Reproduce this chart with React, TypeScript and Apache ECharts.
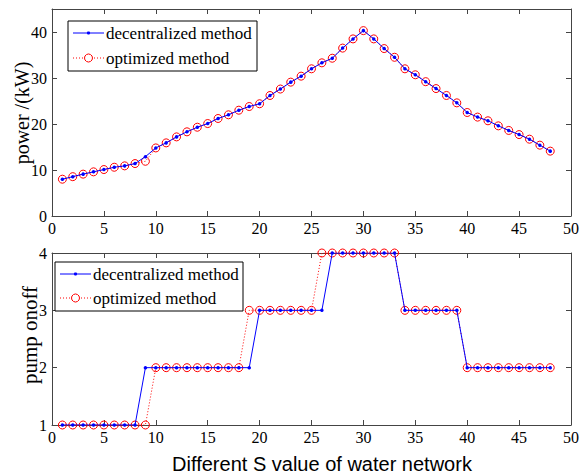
import React, { useEffect, useRef } from "react";
import * as echarts from "echarts";

const sValues = [1, 2, 3, 4, 5, 6, 7, 8, 9, 10, 11, 12, 13, 14, 15, 16, 17, 18, 19, 20, 21, 22, 23, 24, 25, 26, 27, 28, 29, 30, 31, 32, 33, 34, 35, 36, 37, 38, 39, 40, 41, 42, 43, 44, 45, 46, 47, 48];

const powerDecentralized = [8.0, 8.55, 9.1, 9.6, 10.1, 10.6, 10.9, 11.4, 12.9, 14.8, 15.9, 17.2, 18.3, 19.3, 20.1, 21.2, 22.0, 23.0, 23.8, 24.4, 26.2, 27.6, 29.1, 30.4, 32.0, 33.3, 34.3, 36.5, 38.5, 40.3, 38.5, 36.4, 34.5, 32.0, 30.7, 29.2, 27.7, 26.2, 24.6, 22.5, 21.5, 20.7, 19.6, 18.6, 17.7, 16.7, 15.4, 14.1];
const powerOptimized = [8.0, 8.55, 9.1, 9.6, 10.1, 10.6, 10.9, 11.4, 11.9, 14.8, 15.9, 17.2, 18.3, 19.3, 20.1, 21.2, 22.0, 23.0, 23.8, 24.4, 26.2, 27.6, 29.1, 30.4, 32.0, 33.3, 34.3, 36.5, 38.5, 40.3, 38.5, 36.4, 34.5, 32.0, 30.7, 29.2, 27.7, 26.2, 24.6, 22.5, 21.5, 20.7, 19.6, 18.6, 17.7, 16.7, 15.4, 14.1];

const pumpDecentralized = [1, 1, 1, 1, 1, 1, 1, 1, 2, 2, 2, 2, 2, 2, 2, 2, 2, 2, 2, 3, 3, 3, 3, 3, 3, 3, 4, 4, 4, 4, 4, 4, 4, 3, 3, 3, 3, 3, 3, 2, 2, 2, 2, 2, 2, 2, 2, 2];
const pumpOptimized = [1, 1, 1, 1, 1, 1, 1, 1, 1, 2, 2, 2, 2, 2, 2, 2, 2, 2, 3, 3, 3, 3, 3, 3, 3, 4, 4, 4, 4, 4, 4, 4, 4, 3, 3, 3, 3, 3, 3, 2, 2, 2, 2, 2, 2, 2, 2, 2];

const seriesNames = ["decentralized method", "optimized method"];
const xTitle = "Different S value of water network";
const topYTitle = "power /(kW)";
const bottomYTitle = "pump onoff";

const SERIF = "Liberation Serif";
const SANS = "Liberation Sans";
const BLUE = "#0000ff";
const RED = "#ff0000";
const FRAME = "#444444";

function pairs(ys: number[]) {
  return sValues.map((x, i) => [x, ys[i]]);
}

function legendGroup(left: number, top: number, width: number, height: number, rowGap: number) {
  const r1 = top + 12;
  const r2 = r1 + rowGap;
  const lx0 = left + 5;
  const lx1 = left + 36;
  const mid = (lx0 + lx1) / 2;
  const tx = left + 38;
  return [
    { type: "rect", shape: { x: left, y: top, width, height }, style: { fill: "#fff", stroke: "#000", lineWidth: 1 }, z: 100 },
    { type: "line", shape: { x1: lx0, y1: r1, x2: lx1, y2: r1 }, style: { stroke: BLUE, lineWidth: 1 }, z: 101 },
    { type: "circle", shape: { cx: mid, cy: r1, r: 1.6 }, style: { fill: BLUE }, z: 102 },
    { type: "text", x: tx, y: r1, style: { text: seriesNames[0], fontFamily: SERIF, fontSize: 17, fill: "#000", verticalAlign: "middle", align: "left" }, z: 101 },
    { type: "line", shape: { x1: lx0, y1: r2, x2: lx1, y2: r2 }, style: { stroke: RED, lineWidth: 1, lineDash: [1, 2] }, z: 101 },
    { type: "circle", shape: { cx: mid, cy: r2, r: 4 }, style: { fill: "#fff", stroke: RED, lineWidth: 1 }, z: 102 },
    { type: "text", x: tx, y: r2, style: { text: seriesNames[1], fontFamily: SERIF, fontSize: 17, fill: "#000", verticalAlign: "middle", align: "left" }, z: 101 },
  ];
}

export default function App() {
  const ref = useRef<HTMLDivElement>(null);

  useEffect(() => {
    if (!ref.current) return;
    const chart = echarts.init(ref.current, undefined, { renderer: "svg" });

    const baseX = (gridIndex: number, show: boolean, position: "bottom" | "top") => ({
      type: "value",
      gridIndex,
      position,
      min: 0,
      max: 50,
      interval: 5,
      axisLine: { show: true, onZero: false, lineStyle: { color: FRAME, width: 1 } },
      axisTick: { show: true, inside: true, length: 5, lineStyle: { color: FRAME } },
      axisLabel: { show, color: "#000", fontFamily: SERIF, fontSize: 16, margin: 4 },
      splitLine: { show: false },
    });

    const baseY = (gridIndex: number, show: boolean, position: "left" | "right", min: number, max: number, interval: number) => ({
      type: "value",
      gridIndex,
      position,
      min,
      max,
      interval,
      axisLine: { show: true, onZero: false, lineStyle: { color: FRAME, width: 1 } },
      axisTick: { show: true, inside: true, length: 5, lineStyle: { color: FRAME } },
      axisLabel: {
        show,
        color: "#000",
        fontFamily: SERIF,
        fontSize: 16,
        margin: 5,
        formatter: (v: number) => (v % interval === 0 ? String(v) : ""),
      },
      splitLine: { show: false },
    });

    const option: any = {
      animation: false,
      backgroundColor: "#fff",
      grid: [
        { left: 52, top: 9, width: 520, height: 207 },
        { left: 52, top: 253, width: 520, height: 172 },
      ],
      xAxis: [
        baseX(0, true, "bottom"),
        baseX(0, false, "top"),
        baseX(1, true, "bottom"),
        baseX(1, false, "top"),
      ],
      yAxis: [
        baseY(0, true, "left", 0, 45, 10),
        baseY(0, false, "right", 0, 45, 10),
        baseY(1, true, "left", 1, 4, 1),
        baseY(1, false, "right", 1, 4, 1),
      ],
      series: [
        {
          name: seriesNames[1],
          type: "line",
          xAxisIndex: 0,
          yAxisIndex: 0,
          data: pairs(powerOptimized),
          symbol: "circle",
          symbolSize: 8,
          itemStyle: { color: "transparent", borderColor: RED, borderWidth: 1 },
          lineStyle: { color: RED, width: 1, type: [1, 2] },
          z: 2,
        },
        {
          name: seriesNames[0],
          type: "line",
          xAxisIndex: 0,
          yAxisIndex: 0,
          data: pairs(powerDecentralized),
          symbol: "circle",
          symbolSize: 3.5,
          itemStyle: { color: BLUE },
          lineStyle: { color: BLUE, width: 1 },
          z: 3,
        },
        {
          name: seriesNames[1],
          type: "line",
          xAxisIndex: 2,
          yAxisIndex: 2,
          data: pairs(pumpOptimized),
          symbol: "circle",
          symbolSize: 8,
          itemStyle: { color: "transparent", borderColor: RED, borderWidth: 1 },
          lineStyle: { color: RED, width: 1, type: [1, 2] },
          z: 2,
        },
        {
          name: seriesNames[0],
          type: "line",
          xAxisIndex: 2,
          yAxisIndex: 2,
          data: pairs(pumpDecentralized),
          symbol: "circle",
          symbolSize: 3.5,
          itemStyle: { color: BLUE },
          lineStyle: { color: BLUE, width: 1 },
          z: 3,
        },
      ],
      graphic: [
        ...legendGroup(68, 21, 189, 50, 25),
        ...legendGroup(55, 262, 188, 49, 24),
        {
          type: "text",
          x: 22,
          y: 113,
          rotation: Math.PI / 2,
          style: { text: topYTitle, fontFamily: SERIF, fontSize: 20, fill: "#000", align: "center", verticalAlign: "middle" },
        },
        {
          type: "text",
          x: 30,
          y: 335,
          rotation: Math.PI / 2,
          style: { text: bottomYTitle, fontFamily: SERIF, fontSize: 21, fill: "#000", align: "center", verticalAlign: "middle" },
        },
        {
          type: "text",
          x: 322,
          y: 464,
          style: { text: xTitle, fontFamily: SANS, fontSize: 20, fill: "#000", align: "center", verticalAlign: "middle" },
        },
      ],
    };

    chart.setOption(option);
    return () => chart.dispose();
  }, []);

  return (
    <div
      ref={ref}
      style={{ position: "absolute", left: 0, top: 0, width: 582, height: 475, background: "#fff" }}
    />
  );
}
